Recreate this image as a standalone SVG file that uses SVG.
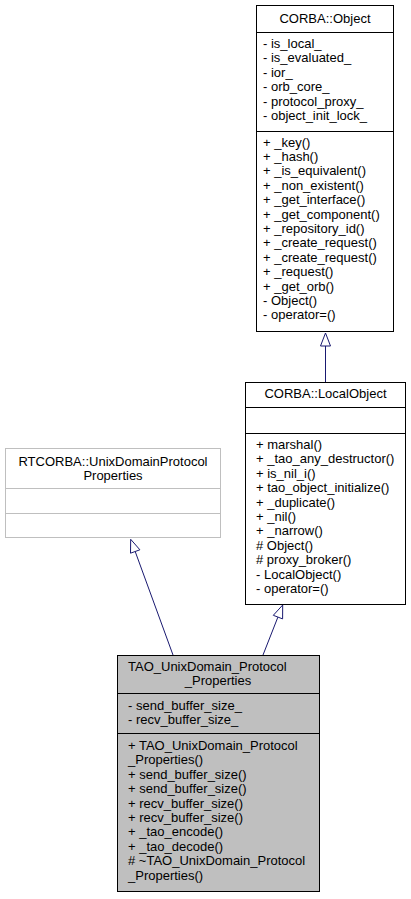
<svg xmlns="http://www.w3.org/2000/svg" width="411" height="899" viewBox="0 0 411 899">
<style>
text{font-family:"Liberation Sans",Arial,Helvetica,sans-serif;font-size:13px;fill:#000}
.box{fill:#fff;stroke:#000;stroke-width:1}
.ext{fill:#fff;stroke:#bfbfbf;stroke-width:1}
.cur{fill:#bfbfbf;stroke:#000;stroke-width:1}
.sep{stroke:#000;stroke-width:1}
.sepg{stroke:#bfbfbf;stroke-width:1}
.edge{stroke:#191970;stroke-width:1;fill:none}
.head{stroke:#191970;stroke-width:1;fill:#fff}
.c{text-anchor:middle}
</style>
<rect width="411" height="899" fill="#fff"/>
<g id="edges">
<line class="edge" x1="325.5" y1="382" x2="325.5" y2="346"/>
<polygon class="head" points="325.5,333 320.5,346 330.5,346"/>
<line class="edge" x1="263" y1="655" x2="277.9" y2="617.1"/>
<polygon class="head" points="282.7,605 282.6,618.9 273.3,615.3"/>
<line class="edge" x1="173" y1="655" x2="135.2" y2="551.5"/>
<polygon class="head" points="130.7,539.3 139.9,549.8 130.5,553.2"/>
</g>
<g id="node_CORBA_Object">
<rect class="box" x="256.5" y="5.5" width="137" height="326"/>
<line class="sep" x1="256.5" y1="32.5" x2="393.5" y2="32.5"/>
<line class="sep" x1="256.5" y1="131.5" x2="393.5" y2="131.5"/>
<text class="c" x="325" y="23">CORBA::Object</text>
<text x="263" y="48">- is_local_</text>
<text x="263" y="62.4">- is_evaluated_</text>
<text x="263" y="76.8">- ior_</text>
<text x="263" y="91.2">- orb_core_</text>
<text x="263" y="105.6">- protocol_proxy_</text>
<text x="263" y="120">- object_init_lock_</text>
<text x="263" y="146.5">+ _key()</text>
<text x="263" y="160.9">+ _hash()</text>
<text x="263" y="175.3">+ _is_equivalent()</text>
<text x="263" y="189.7">+ _non_existent()</text>
<text x="263" y="204.1">+ _get_interface()</text>
<text x="263" y="218.5">+ _get_component()</text>
<text x="263" y="232.9">+ _repository_id()</text>
<text x="263" y="247.3">+ _create_request()</text>
<text x="263" y="261.7">+ _create_request()</text>
<text x="263" y="276.1">+ _request()</text>
<text x="263" y="290.5">+ _get_orb()</text>
<text x="263" y="304.9">- Object()</text>
<text x="263" y="319.3">- operator=()</text>
</g>
<g id="node_CORBA_LocalObject">
<rect class="box" x="245.5" y="382.5" width="160" height="222"/>
<line class="sep" x1="245.5" y1="407.5" x2="405.5" y2="407.5"/>
<line class="sep" x1="245.5" y1="433.5" x2="405.5" y2="433.5"/>
<text class="c" x="325.5" y="398">CORBA::LocalObject</text>
<text x="256" y="449">+ marshal()</text>
<text x="256" y="463.4">+ _tao_any_destructor()</text>
<text x="256" y="477.8">+ is_nil_i()</text>
<text x="256" y="492.2">+ tao_object_initialize()</text>
<text x="256" y="506.6">+ _duplicate()</text>
<text x="256" y="521">+ _nil()</text>
<text x="256" y="535.4">+ _narrow()</text>
<text x="256" y="549.8"># Object()</text>
<text x="256" y="564.2"># proxy_broker()</text>
<text x="256" y="578.6">- LocalObject()</text>
<text x="256" y="593">- operator=()</text>
</g>
<g id="node_RTCORBA_UnixDomainProtocolProperties">
<rect class="ext" x="5.5" y="448.5" width="215" height="89"/>
<line class="sepg" x1="5.5" y1="488.5" x2="220.5" y2="488.5"/>
<line class="sepg" x1="5.5" y1="513.5" x2="220.5" y2="513.5"/>
<text class="c" x="113" y="466">RTCORBA::UnixDomainProtocol</text>
<text class="c" x="113" y="480.4">Properties</text>
</g>
<g id="node_TAO_UnixDomain_Protocol_Properties">
<rect class="cur" x="117.5" y="655.5" width="202" height="236"/>
<line class="sep" x1="117.5" y1="693.5" x2="319.5" y2="693.5"/>
<line class="sep" x1="117.5" y1="733.5" x2="319.5" y2="733.5"/>
<text x="128" y="670.5">TAO_UnixDomain_Protocol</text>
<text class="c" x="218" y="684.9">_Properties</text>
<text x="128" y="709.5">- send_buffer_size_</text>
<text x="128" y="723.5">- recv_buffer_size_</text>
<text x="128" y="750">+ TAO_UnixDomain_Protocol</text>
<text x="128" y="764.4">_Properties()</text>
<text x="128" y="778.8">+ send_buffer_size()</text>
<text x="128" y="793.2">+ send_buffer_size()</text>
<text x="128" y="807.6">+ recv_buffer_size()</text>
<text x="128" y="822">+ recv_buffer_size()</text>
<text x="128" y="836.4">+ _tao_encode()</text>
<text x="128" y="850.8">+ _tao_decode()</text>
<text x="128" y="865.2"># ~TAO_UnixDomain_Protocol</text>
<text x="128" y="879.6">_Properties()</text>
</g>
</svg>
